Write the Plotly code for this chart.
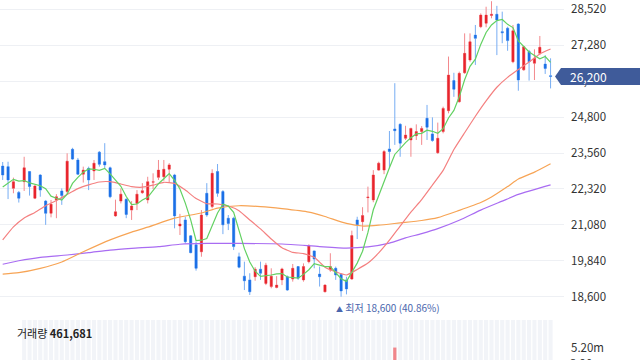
import plotly.graph_objects as go

# ---------------- data ----------------
days = list(range(103))
open_ = [23110, 23090, 22340, 22200, 22570, 22920, 22000, 22800, 21900, 21480,
         21940, 22250, 22230, 23690, 23320, 22830, 23030, 22940, 23590, 23260,
         23050, 21390, 21900, 21960, 21590, 21820, 22190, 21940, 22550, 22720,
         22740, 23000, 22800, 21040, 21250, 20700, 20390, 20150, 22170, 21710,
         22920, 22230, 21310, 21310, 19980, 19310, 19180, 19290, 19550, 19060,
         18950, 18920, 19180, 19290, 19210, 19640, 19180, 19810, 20180, 19380,
         18770, 19520, 19580, 19370, 19180, 19210, 21250, 21190, 22020, 21940,
         22970, 22970, 23700, 24390, 24550, 24070, 24010, 24160, 24300, 24760,
         24220, 23570, 24300, 25020, 26060, 25330, 26330, 26770, 27630, 27920,
         28040, 28310, 28350, 27750, 27870, 26710, 28010, 26430, 27060, 26660,
         27000, 26630, 26230]
high = [23250, 23260, 22710, 22250, 23430, 22940, 22460, 22830, 21940, 21940,
        22140, 22340, 23550, 23740, 23390, 23090, 23090, 23320, 23630, 23900,
        23090, 21950, 22340, 22000, 21900, 22280, 22520, 22740, 22860, 23320,
        23320, 23210, 22840, 21460, 21360, 20730, 20500, 21590, 22520, 23000,
        23180, 22280, 21420, 21360, 20120, 19810, 19410, 19620, 19810, 19770,
        19580, 19310, 19600, 19330, 19730, 19660, 19750, 20410, 20190, 19640,
        19030, 20100, 19640, 19410, 19290, 20880, 21360, 21690, 22400, 22970,
        23260, 23660, 24320, 25970, 24590, 24500, 24430, 24550, 24490, 25220,
        24790, 24610, 25160, 26890, 26330, 26370, 27690, 27690, 27980, 28380,
        28610, 28800, 28640, 28440, 27920, 27980, 28040, 27250, 27120, 27140,
        27600, 26940, 26830]
low = [22630, 21970, 22170, 21850, 22250, 22090, 21970, 22050, 21080, 21340,
       21310, 21770, 22140, 23320, 22800, 22540, 22280, 22630, 23090, 23030,
       22000, 21360, 21820, 21310, 21250, 21590, 22150, 21820, 22310, 22630,
       22600, 22550, 20960, 20730, 20440, 20100, 19500, 19980, 21360, 21650,
       22050, 20760, 20900, 20210, 19580, 18830, 18660, 19150, 19180, 19000,
       18890, 18890, 19000, 18800, 19120, 19180, 19120, 19750, 19580, 18950,
       18750, 19460, 19180, 18600, 18680, 19180, 20590, 20870, 21510, 21860,
       22940, 22830, 23030, 23840, 23430, 24010, 23430, 24010, 23840, 24010,
       23950, 23530, 24240, 24930, 25500, 25300, 26290, 26710, 26600, 27870,
       27900, 28210, 26940, 27350, 27090, 26660, 25710, 26400, 26060, 26080,
       26940, 26290, 25790]
close = [22800, 22630, 22570, 22000, 23050, 22400, 22420, 22280, 21480, 21790,
         22050, 22090, 23280, 23350, 22830, 22970, 22630, 23210, 23170, 23150,
         22050, 21530, 22140, 21440, 21730, 22140, 22260, 22570, 22570, 22970,
         23000, 23150, 21390, 21110, 20500, 20120, 19580, 21420, 21420, 22860,
         22170, 21080, 21130, 20330, 19620, 19150, 18770, 19550, 19410, 19690,
         19310, 19000, 19560, 18830, 19580, 19240, 19640, 20350, 19900, 19290,
         19000, 19640, 19350, 18800, 18870, 20710, 21080, 21400, 22040, 22800,
         23210, 23610, 23610, 24330, 23900, 24180, 24410, 24300, 24410, 24450,
         23990, 24070, 25100, 26250, 25760, 26310, 27000, 27400, 27520, 28320,
         28320, 28350, 28150, 27710, 27440, 27780, 26080, 27230, 26710, 26830,
         27210, 26480, 26200]

# moving-average lines
ma5 = [22390, 22530, 22650, 22590, 22610, 22530, 22490, 22430, 22330, 22070,
       22000, 21940, 22140, 22510, 22720, 22900, 23010, 23000, 22960, 23030,
       22840, 22620, 22410, 22060, 21780, 21800, 21940, 22030, 22250, 22500,
       22670, 22850, 22620, 22320, 21830, 21250, 20540, 20550, 20610, 21080,
       21490, 21790, 21730, 21510, 20860, 20260, 19800, 19480, 19300, 19320,
       19350, 19390, 19400, 19280, 19260, 19240, 19370, 19530, 19740, 19680,
       19640, 19640, 19440, 19220, 19130, 19470, 19760, 20170, 20820, 21600,
       22100, 22610, 23050, 23510, 23730, 23920, 24090, 24220, 24240, 24350,
       24310, 24240, 24400, 24770, 25030, 25500, 26090, 26550, 26800, 27310,
       27720, 27980, 28130, 28170, 28000, 27890, 27430, 27250, 27050, 26930,
       26810, 26890, 26690]
ma20_days = list(range(0, 103, 2))
ma20 = [20560, 21010, 21320, 21510, 21740, 21920, 22130, 22330, 22460, 22560,
        22570, 22490, 22400, 22380, 22450, 22550, 22510, 22280, 21990, 21810,
        21800, 21730, 21570, 21250, 20940, 20590, 20290, 20130, 20090, 19960,
        19620, 19460, 19350, 19540, 19760, 20110, 20550, 21040, 21520, 21950,
        22450, 22960, 23680, 24260, 24830, 25360, 25830, 26170, 26440, 26700,
        26980, 27150]
ma60_days = [0, 3, 7, 11, 15, 20, 24, 27, 32, 37, 40, 44, 48, 52, 57, 60, 64,
             67, 70, 74, 78, 81, 85, 89, 91, 94, 96, 99, 102]
ma60 = [19380, 19430, 19580, 19800, 20150, 20560, 20830, 21000, 21310, 21490,
        21660, 21740, 21710, 21640, 21520, 21370, 21130, 21040, 21070, 21150,
        21230, 21330, 21580, 21850, 22040, 22400, 22660, 22900, 23190]
ma120_days = [0, 3, 7, 12, 16, 20, 24, 29, 33, 38, 44, 52, 59, 64, 68, 72, 75,
              78, 81, 85, 89, 93, 96, 102]
ma120 = [19720, 19840, 19960, 20040, 20120, 20210, 20270, 20330, 20410, 20440,
         20440, 20420, 20330, 20280, 20320, 20450, 20630, 20780, 20950, 21240,
         21590, 21900, 22130, 22460]

# only one volume bar is visible above the cut-off bottom edge
volume_days = [73]
volume = [5250000]
stripe_days = list(range(4, 103))

price_ticks = [18600, 19840, 21080, 22320, 23560, 24800, 26040, 27280, 28520]
volume_ticks = [5200000]
volume_tick_text = ["5.20m"]
volume_cut_tick, volume_cut_text = 3900000, "3.90m"   # label cut by the bottom edge
last_price = 26200
low_day, low_price, low_pct = 63, 18600, "40.86%"
high_day, high_price, high_pct = 91, 28800, "-9.03%"
volume_today = "461,681"

# ---------------- styling ----------------
W, H = 640, 360
plot_right = 564
price_top_px, price_bot_px = 0, 312
vol_top_px = 320
price_range = [18072, 28842]
vol_range = [3880000, 8280000]

RED, RED_W = "#e8242c", "#f3898d"
BLUE, BLUE_W = "#1b6fe6", "#77adf3"
TAG = "#3f5b9a"
FONT = "Noto Sans CJK KR"

fig = go.Figure()

# background stripes of the volume pane
shapes = []
for d in stripe_days:
    shapes.append(dict(type="rect", xref="x", yref="y2 domain", x0=d - 0.38, x1=d + 0.38,
                       y0=0, y1=1, fillcolor="#f2f4f8", line=dict(width=0), layer="below"))

fig.add_trace(go.Bar(x=volume_days, y=volume, yaxis="y2", marker_color="#f1868b",
                     marker_line_width=0, width=0.6))

# candles: light wicks first, then solid bodies on top
fig.add_trace(go.Candlestick(
    x=days, open=open_, high=high, low=low, close=close,
    increasing=dict(line=dict(color=RED_W, width=1), fillcolor=RED_W),
    decreasing=dict(line=dict(color=BLUE_W, width=1), fillcolor=BLUE_W),
    whiskerwidth=0))
fig.add_trace(go.Candlestick(
    x=days, open=open_, high=high, low=low, close=close,
    increasing=dict(line=dict(color=RED, width=0), fillcolor=RED),
    decreasing=dict(line=dict(color=BLUE, width=0), fillcolor=BLUE),
    whiskerwidth=0))

fig.add_trace(go.Scatter(x=ma120_days, y=ma120, mode="lines",
                         line=dict(color="#a96cf2", width=1.2, shape="spline", smoothing=0.6)))
fig.add_trace(go.Scatter(x=ma60_days, y=ma60, mode="lines",
                         line=dict(color="#f7a455", width=1.2, shape="spline", smoothing=0.6)))
fig.add_trace(go.Scatter(x=ma20_days, y=ma20, mode="lines",
                         line=dict(color="#f48080", width=1.2, shape="spline", smoothing=0.4)))
fig.add_trace(go.Scatter(x=days, y=ma5, mode="lines",
                         line=dict(color="#62d162", width=1.2)))

# current price tag (notched box) at the last close
px_per_val = (price_bot_px - price_top_px) / (price_range[1] - price_range[0])
half = 8.5 / px_per_val
xl = 561 / plot_right
xt = 555 / plot_right
xr = W / plot_right
shapes.append(dict(type="path", xref="paper", yref="y",
                   path=(f"M {xt} {last_price} L {xl} {last_price + half} L {xr} {last_price + half} "
                         f"L {xr} {last_price - half} L {xl} {last_price - half} Z"),
                   fillcolor=TAG, line=dict(width=0), layer="above"))

annotations = [
    dict(xref="paper", yref="y", x=568 / plot_right, y=last_price, xanchor="left",
         yanchor="middle", text=f"{last_price:,}", showarrow=False,
         font=dict(color="white", size=12, family=FONT)),
    dict(xref="x", yref="y", x=low_day, y=low_price, xanchor="left", yanchor="top",
         xshift=-7, yshift=-1, showarrow=False,
         text=f"<span style='font-size:7px'>▲</span> 최저 {low_price:,} ({low_pct})",
         font=dict(color="#4a66ad", size=10, family=FONT)),
    dict(xref="x", yref="y", x=high_day, y=high_price, xanchor="right", yanchor="bottom",
         xshift=4, yshift=-1, showarrow=False,
         text=f"최고 {high_price:,} ({high_pct}) <span style='font-size:7px'>▼</span>",
         font=dict(color="#4a66ad", size=10, family=FONT)),
    dict(xref="paper", yref="paper", x=15 / plot_right, y=(H - 333) / H, xanchor="left",
         yanchor="middle", showarrow=False, text=f"거래량 <b>{volume_today}</b>",
         font=dict(color="#222222", size=11, family=FONT)),
    dict(xref="paper", yref="y2", x=568 / plot_right, y=volume_cut_tick, xanchor="left",
         yanchor="middle", yshift=-3, showarrow=False, text=volume_cut_text,
         font=dict(color="#333333", size=11.5, family=FONT)),
]

fig.update_layout(
    width=W, height=H, margin=dict(l=0, r=W - plot_right, t=0, b=0),
    paper_bgcolor="white", plot_bgcolor="white", showlegend=False, hovermode=False,
    font=dict(family=FONT, color="#333333"),
    boxgap=0.42,
    xaxis=dict(range=[-0.5, 104.5], visible=False, rangeslider=dict(visible=False),
               fixedrange=True),
    yaxis=dict(domain=[1 - price_bot_px / H, 1 - price_top_px / H], range=price_range,
               side="right", tickvals=price_ticks, tickformat=",", ticks="",
               showgrid=True, gridcolor="#eef0f4", gridwidth=1, zeroline=False,
               showline=False, ticklabelstandoff=6,
               tickfont=dict(size=11.5, color="#333333", family=FONT)),
    yaxis2=dict(domain=[0, 1 - vol_top_px / H], range=vol_range, anchor="x", side="right",
                tickvals=volume_ticks, ticktext=volume_tick_text, ticks="", showgrid=False,
                zeroline=False, showline=False, ticklabelstandoff=6,
                tickfont=dict(size=11.5, color="#333333", family=FONT)),
    shapes=shapes, annotations=annotations,
)

fig.write_html("out.html", config={"displayModeBar": False, "staticPlot": True},
               post_script="document.body.style.margin='0';document.body.style.overflow='hidden';")
